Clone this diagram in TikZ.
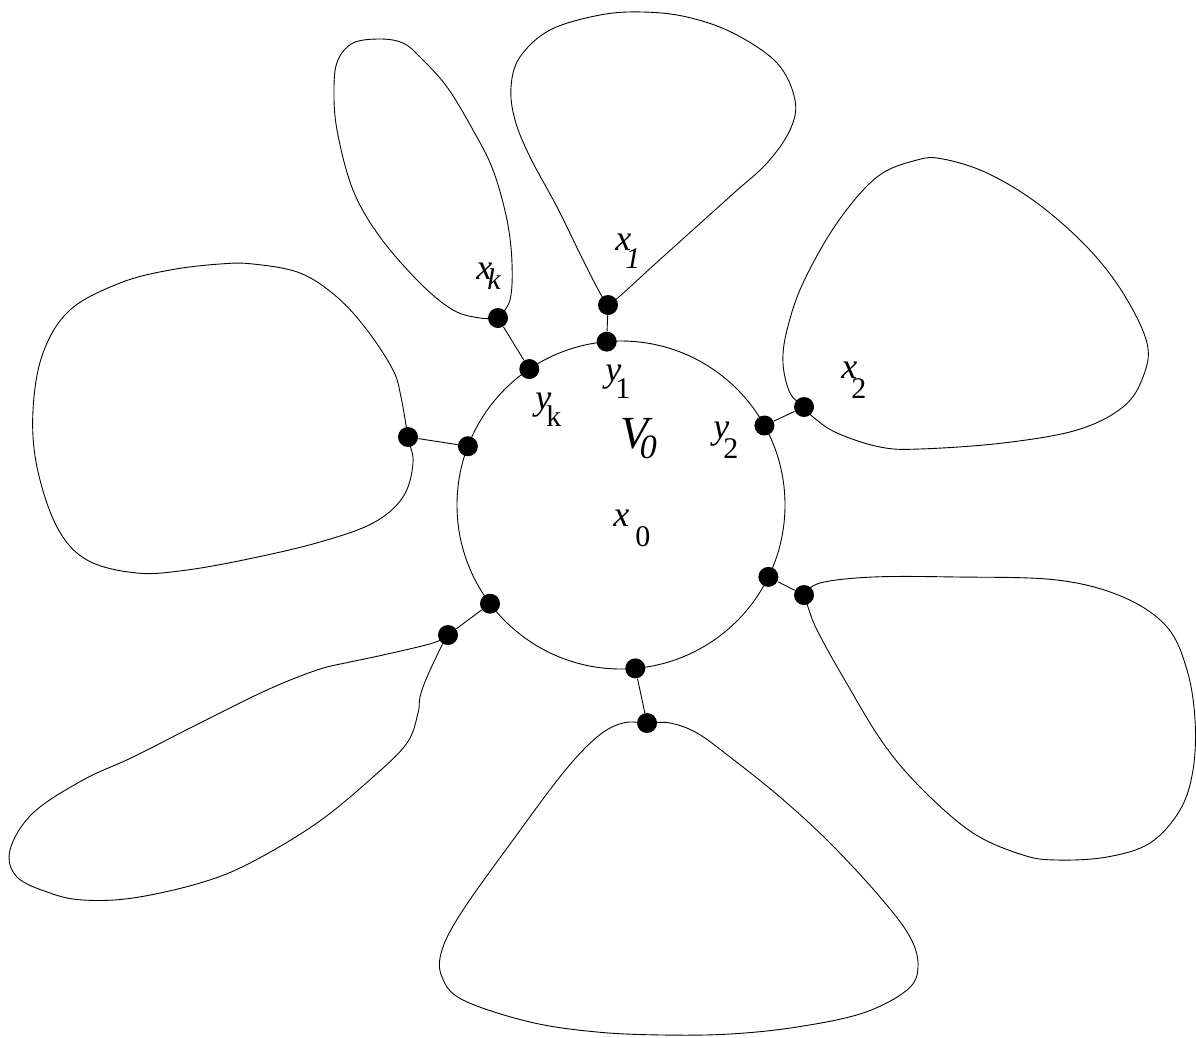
\documentclass[tikz,border=0pt]{standalone}
\usepackage{fontspec}
\setmainfont{Liberation Serif}
\newcommand{\subsz}{\fontsize{30}{30}\selectfont}

\begin{document}
\begin{tikzpicture}[x=1pt, y=-1pt, line width=0.9pt,
    dot/.style={circle, fill, inner sep=0pt, minimum size=20pt},
    lbl/.style={anchor=base west, inner sep=0pt, font=\fontsize{36}{36}\selectfont}]
    \useasboundingbox (0,0) rectangle (1196,1037);
    % the set V_0
    \node[draw, circle, inner sep=0pt, outer sep=0pt, minimum size=328pt] (ring) at (621,505) {};
    % points on the ring
    \node[dot] (y1) at (ring.95) {};
    \node[dot] (yk) at (ring.124) {};
    \node[dot] (yl) at (ring.159) {};
    \node[dot] (yll) at (ring.217) {};
    \node[dot] (yb) at (ring.275) {};
    \node[dot] (yr) at (ring.334) {};
    \node[dot] (y2) at (ring.29) {};
    % points on the loops
    \node[dot] (x1) at (608,305) {};
    \node[dot] (xk) at (498,318) {};
    \node[dot] (xl) at (408,437) {};
    \node[dot] (x2) at (804,407) {};
    \node[dot] (xr) at (804,595) {};
    \node[dot] (xb) at (647,723) {};
    \node[dot] (xll) at (448,635) {};
    \draw (y1) -- (x1);
    \draw (yk) -- (xk);
    \draw (yl) -- (xl);
    \draw (y2) -- (x2);
    \draw (yr) -- (xr);
    \draw (yb) -- (xb);
    \draw (yll) -- (xll);
    % loops
    \draw plot[smooth, tension=0.6] coordinates {(498,318) (510,300) (512,263) (507,220) (493,170) (473,130) (447,87) (420,57) (403,43) (380,39) (353,43) (338,60) (334,87) (337,130) (353,190) (380,237) (420,283) (453,310) (480,318) (498,318)};
    \draw plot[smooth, tension=0.6] coordinates {(608,305) (600,293) (583,260) (557,207) (530,157) (515,120) (511,87) (520,57) (550,30) (600,15) (643,12) (687,17) (733,33) (777,63) (795,100) (790,130) (767,163) (735,192) (695,228) (655,264) (620,296) (608,305)};
    \draw plot[smooth cycle, tension=0.6] coordinates {(804,407) (790,393) (783,363) (787,330) (803,283) (837,223) (877,177) (917,160) (943,159) (987,173) (1037,203) (1087,247) (1123,293) (1147,343) (1143,377) (1123,407) (1077,430) (1003,443) (920,449) (880,447) (837,433) (813,417)};
    \draw plot[smooth cycle, tension=0.6] coordinates {(408,437) (401,397) (393,370) (367,330) (337,297) (300,273) (253,264) (220,264) (170,270) (120,283) (70,310) (43,353) (33,410) (37,467) (57,527) (87,560) (137,573) (187,570) (253,558) (320,542) (373,523) (403,497) (413,463)};
    \draw plot[smooth, tension=0.6] coordinates {(804,595) (820,583) (873,577) (957,577) (1057,580) (1123,597) (1167,627) (1187,670) (1195,720) (1193,770) (1180,810) (1150,843) (1107,857) (1057,860) (1023,855) (973,833) (923,790) (883,743) (843,677) (817,630) (808,607) (804,595)};
    \draw plot[smooth, tension=0.6] coordinates {(448,635) (433,643) (383,655) (350,662) (317,670) (267,690) (200,723) (133,757) (83,780) (33,813) (10,850) (17,877) (50,893) (83,900) (133,898) (200,883) (250,863) (317,823) (373,777) (407,743) (418,713) (420,697) (427,677) (443,643) (448,635)};
    \draw plot[smooth cycle, tension=0.6] coordinates {(647,723) (670,723) (697,733) (730,757) (780,797) (830,843) (880,897) (910,937) (918,967) (907,990) (863,1013) (797,1027) (730,1034) (663,1035) (597,1032) (530,1022) (463,1000) (442,977) (442,950) (463,910) (513,840) (563,773) (597,737) (623,723)};
    % labels
    \node[lbl] (lx1) at (615,250) {\textit{x}\kern-6pt\raisebox{-18pt}{\subsz\textit{1}}};
    \node[lbl] (lxk) at (476,279) {\textit{x}\kern-5pt\raisebox{-10pt}{\subsz\textit{k}}};
    \node[lbl] (ly1) at (605,381) {\textit{y}\kern-6pt\raisebox{-17pt}{\subsz 1}};
    \node[lbl] (lyk) at (535,409) {\textit{y}\kern-5pt\raisebox{-17pt}{\subsz k}};
    \node[lbl] (ly2) at (713,438) {\textit{y}\kern-6pt\raisebox{-20pt}{\subsz 2}};
    \node[lbl] (lx2) at (841,378) {\textit{x}\kern-6pt\raisebox{-20pt}{\subsz 2}};
    \node[lbl] (lV0) at (620,448) {\fontsize{46}{46}\selectfont\textit{V}\kern-13pt\raisebox{-10pt}{\fontsize{34}{34}\selectfont\textit{0}}};
    \node[lbl] (lx0) at (613,526) {\textit{x}\kern6pt\raisebox{-20pt}{\subsz 0}};
\end{tikzpicture}
\end{document}
